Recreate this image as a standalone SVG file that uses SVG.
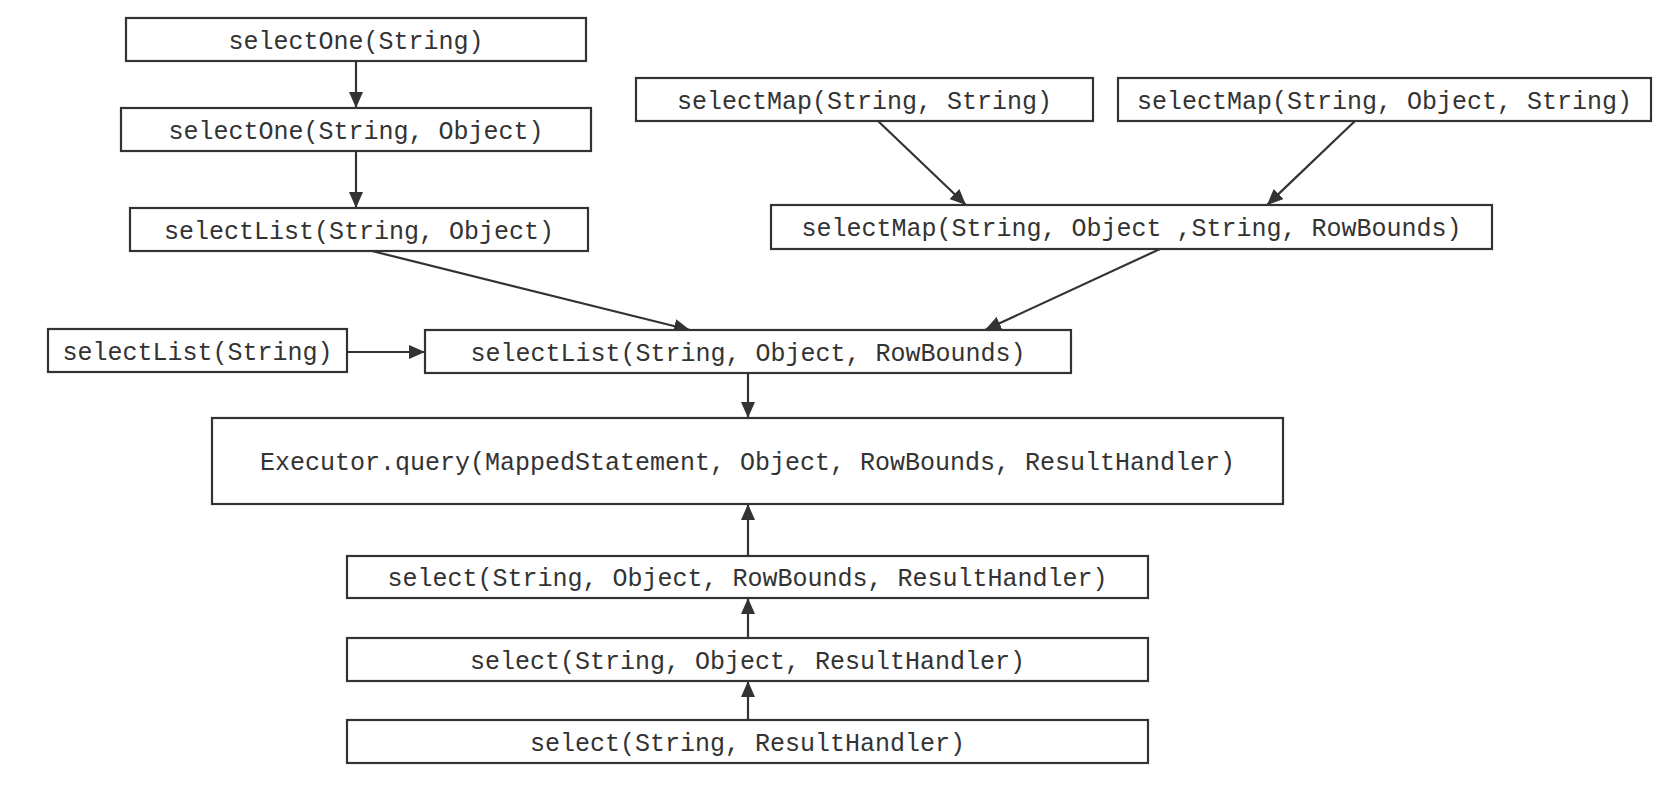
<svg xmlns="http://www.w3.org/2000/svg" width="1666" height="786" viewBox="0 0 1666 786">
<style>
.box rect{fill:#fff;stroke:#333;stroke-width:2.2}
.box text{font-family:"Liberation Mono","Courier New",monospace;font-size:25px;fill:#333;text-anchor:middle}
.conn line{stroke:#333;stroke-width:2.2;marker-end:url(#ah)}
</style>
<defs>
<marker id="ah" viewBox="0 0 16 14" refX="16" refY="7" markerWidth="16" markerHeight="14" markerUnits="userSpaceOnUse" orient="auto">
<path d="M0,0 L16,7 L0,14 Z" fill="#333"/>
</marker>
</defs>
<rect width="1666" height="786" fill="#fff"/>
<g class="conn">
<line x1="356" y1="61" x2="356" y2="108"/>
<line x1="356" y1="151" x2="356" y2="208"/>
<line x1="372" y1="251" x2="690" y2="330"/>
<line x1="878" y1="121" x2="966" y2="205"/>
<line x1="1355" y1="121" x2="1267" y2="205"/>
<line x1="1160" y1="249" x2="985" y2="330"/>
<line x1="347" y1="352" x2="425" y2="352"/>
<line x1="748" y1="373" x2="748" y2="418"/>
<line x1="748" y1="556" x2="748" y2="504"/>
<line x1="748" y1="638" x2="748" y2="598"/>
<line x1="748" y1="720" x2="748" y2="681"/>
</g>
<g id="n1" class="box"><rect x="126" y="18" width="460" height="43"/><text x="356" y="48.5">selectOne(String)</text></g>
<g id="n2" class="box"><rect x="121" y="108" width="470" height="43"/><text x="356" y="138.5">selectOne(String, Object)</text></g>
<g id="n3" class="box"><rect x="130" y="208" width="458" height="43"/><text x="359" y="238.5">selectList(String, Object)</text></g>
<g id="n4" class="box"><rect x="636" y="78" width="457" height="43"/><text x="864.5" y="108.5">selectMap(String, String)</text></g>
<g id="n5" class="box"><rect x="1118" y="78" width="533" height="43"/><text x="1384.5" y="108.5">selectMap(String, Object, String)</text></g>
<g id="n6" class="box"><rect x="771" y="205" width="721" height="44"/><text x="1131.5" y="236">selectMap(String, Object ,String, RowBounds)</text></g>
<g id="n7" class="box"><rect x="48" y="329" width="299" height="43"/><text x="197.5" y="359.5">selectList(String)</text></g>
<g id="n8" class="box"><rect x="425" y="330" width="646" height="43"/><text x="748" y="360.5">selectList(String, Object, RowBounds)</text></g>
<g id="n9" class="box"><rect x="212" y="418" width="1071" height="86"/><text x="747.5" y="470">Executor.query(MappedStatement, Object, RowBounds, ResultHandler)</text></g>
<g id="n10" class="box"><rect x="347" y="556" width="801" height="42"/><text x="747.5" y="586">select(String, Object, RowBounds, ResultHandler)</text></g>
<g id="n11" class="box"><rect x="347" y="638" width="801" height="43"/><text x="747.5" y="668.5">select(String, Object, ResultHandler)</text></g>
<g id="n12" class="box"><rect x="347" y="720" width="801" height="43"/><text x="747.5" y="750.5">select(String, ResultHandler)</text></g>
</svg>
